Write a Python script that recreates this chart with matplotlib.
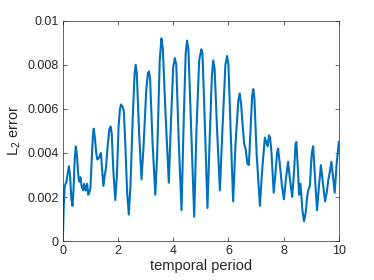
import matplotlib
matplotlib.use("Agg")
import matplotlib.pyplot as plt

t = [0.00, 0.03, 0.07, 0.13, 0.18, 0.22, 0.26, 0.31, 0.35, 0.39, 0.43, 0.47, 0.51, 0.56, 0.59,
     0.64, 0.68, 0.74, 0.77, 0.83, 0.88, 0.92, 0.96, 1.00, 1.05, 1.09, 1.12, 1.16, 1.21, 1.25,
     1.32, 1.38, 1.42, 1.47, 1.52, 1.56, 1.63, 1.69, 1.73, 1.77, 1.83, 1.90, 1.96, 2.02, 2.07,
     2.11, 2.16, 2.21, 2.26, 2.33, 2.39, 2.45, 2.53, 2.60, 2.64, 2.68, 2.76, 2.85, 2.92, 3.02,
     3.08, 3.12, 3.16, 3.25, 3.35, 3.42, 3.51, 3.57, 3.62, 3.72, 3.84, 3.92, 4.00, 4.06, 4.11,
     4.20, 4.30, 4.38, 4.45, 4.50, 4.55, 4.64, 4.76, 4.84, 4.94, 5.02, 5.06, 5.14, 5.24, 5.33,
     5.40, 5.45, 5.50, 5.58, 5.69, 5.78, 5.89, 5.95, 6.00, 6.08, 6.17, 6.26, 6.36, 6.41, 6.46,
     6.50, 6.57, 6.62, 6.69, 6.74, 6.80, 6.86, 6.90, 6.94, 7.02, 7.14, 7.22, 7.32, 7.37, 7.42,
     7.47, 7.51, 7.56, 7.64, 7.70, 7.76, 7.80, 7.86, 7.94, 8.01, 8.08, 8.16, 8.22, 8.31, 8.38,
     8.43, 8.46, 8.52, 8.56, 8.61, 8.68, 8.74, 8.80, 8.85, 8.89, 8.95, 9.02, 9.07, 9.13, 9.21,
     9.28, 9.35, 9.41, 9.50, 9.56, 9.61, 9.68, 9.73, 9.78, 9.85, 9.92, 10.0]

err = [0.0000, 0.0015, 0.0025, 0.0027, 0.0031, 0.0034, 0.0030, 0.0019, 0.0016, 0.0024, 0.0037,
       0.0043, 0.0039, 0.0030, 0.0027, 0.0029, 0.0025, 0.0023, 0.0026, 0.0023, 0.0026, 0.0021,
       0.0022, 0.0024, 0.0038, 0.0048, 0.0051, 0.0047, 0.0040, 0.0037, 0.0038, 0.0040, 0.0033,
       0.0025, 0.0030, 0.0033, 0.0044, 0.0051, 0.0052, 0.0049, 0.0032, 0.00186, 0.0030, 0.0052,
       0.0060, 0.0062, 0.0061, 0.0059, 0.0045, 0.0022, 0.0012, 0.0025, 0.0055, 0.0076, 0.0080,
       0.0076, 0.0050, 0.0028, 0.0042, 0.0068, 0.0076, 0.0077, 0.0074, 0.0045, 0.0021, 0.0040,
       0.0082, 0.0092, 0.0088, 0.0058, 0.00265, 0.0055, 0.0079, 0.0083, 0.0080, 0.0045, 0.0014,
       0.0055, 0.0085, 0.0091, 0.0087, 0.0055, 0.0011, 0.0050, 0.0082, 0.0087, 0.0085, 0.0055,
       0.0015, 0.0050, 0.0075, 0.0082, 0.0078, 0.0053, 0.0023, 0.0050, 0.0080, 0.0084, 0.0080,
       0.0050, 0.0018, 0.0045, 0.0064, 0.0067, 0.0062, 0.0055, 0.0044, 0.0042, 0.0035, 0.00345,
       0.0050, 0.0066, 0.0069, 0.0065, 0.0040, 0.0016, 0.0032, 0.0047, 0.0045, 0.0043, 0.0048,
       0.0047, 0.0040, 0.0022, 0.0030, 0.0040, 0.0042, 0.0035, 0.0025, 0.0019, 0.0028, 0.0036,
       0.0029, 0.0020, 0.0032, 0.0044, 0.0045, 0.0032, 0.0021, 0.0026, 0.0014, 0.0009, 0.0013,
       0.0020, 0.0023, 0.0025, 0.0040, 0.0043, 0.0030, 0.0014, 0.0025, 0.00345, 0.0028, 0.0018,
       0.0022, 0.0027, 0.0032, 0.0036, 0.0030, 0.0022, 0.0035, 0.0045]

xticks = [0, 2, 4, 6, 8, 10]
yticks = [0, 0.002, 0.004, 0.006, 0.008, 0.01]
ytick_labels = ["0", "0.002", "0.004", "0.006", "0.008", "0.01"]

plt.rcParams['font.family'] = ['Liberation Sans', 'DejaVu Sans']
plt.rcParams['mathtext.default'] = 'regular'

fig = plt.figure(figsize=(3.74, 2.80), dpi=100)
ax = fig.add_axes([0.168, 0.139, 0.738, 0.787])
ax.plot(t, err, color='#0072BD', linewidth=1.5, solid_joinstyle='round')
ax.set_xlim(0, 10)
ax.set_ylim(0, 0.01)
ax.set_xticks(xticks)
ax.set_xticklabels([str(v) for v in xticks])
ax.set_yticks(yticks)
ax.set_yticklabels(ytick_labels)
for s in ax.spines.values():
    s.set_color('#262626')
    s.set_linewidth(0.5)
ax.tick_params(direction='in', top=True, right=True, length=3, width=0.5,
               color='#262626', labelsize=9, labelcolor='#262626', pad=3)
ax.set_xlabel('temporal period', fontsize=10.5, color='#262626', labelpad=1)
ax.set_ylabel('L$_2$ error', fontsize=10.5, color='#262626', labelpad=3)
fig.savefig('out.png', dpi=100)
